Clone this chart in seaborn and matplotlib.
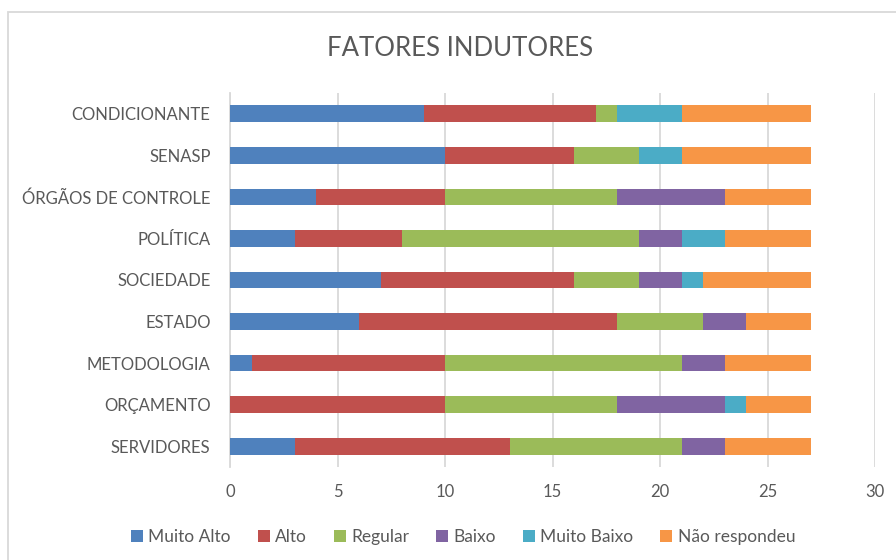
import matplotlib
matplotlib.use("Agg")
import matplotlib.pyplot as plt
import seaborn as sns
import pandas as pd
import numpy as np
from matplotlib.patches import Rectangle, Patch

categories = ["CONDICIONANTE", "SENASP", "ÓRGÃOS DE CONTROLE", "POLÍTICA", "SOCIEDADE",
              "ESTADO", "METODOLOGIA", "ORÇAMENTO", "SERVIDORES"]
muito_alto = [9, 10, 4, 3, 7, 6, 1, 0, 3]
alto = [8, 6, 6, 5, 9, 12, 9, 10, 10]
regular = [1, 3, 8, 11, 3, 4, 11, 8, 8]
baixo = [0, 0, 5, 2, 2, 2, 2, 5, 2]
muito_baixo = [3, 2, 0, 2, 1, 0, 0, 1, 0]
nao_respondeu = [6, 6, 4, 4, 5, 3, 4, 3, 4]

series_names = ["Muito Alto", "Alto", "Regular", "Baixo", "Muito Baixo", "Não respondeu"]
series_vals = [muito_alto, alto, regular, baixo, muito_baixo, nao_respondeu]
colors = ["#4F81BD", "#C0504D", "#9BBB59", "#8064A2", "#4BACC6", "#F79646"]
xticks = [0, 5, 10, 15, 20, 25, 30]

sns.set_theme(style="white")
plt.rcParams["font.family"] = ["Lato", "DejaVu Sans"]

fig = plt.figure(figsize=(8.96, 5.6), dpi=100)
ax = fig.add_axes([230/896, 1 - 467/560, (875-230)/896, (467-93)/560])

cum = np.cumsum(np.array(series_vals), axis=0)
for i in range(len(series_names) - 1, -1, -1):
    df = pd.DataFrame({"cat": categories, "val": cum[i]})
    sns.barplot(data=df, x="val", y="cat", order=categories, color=colors[i],
                width=0.4, ax=ax, saturation=1, linewidth=0, zorder=3)

ax.set_xlim(0, 30)
ax.set_xticks(xticks)
ax.set_xlabel("")
ax.set_ylabel("")
ax.grid(axis="x", color="#D9D9D9", linewidth=1.3, zorder=0)
ax.grid(axis="y", visible=False)
for s in ["top", "right", "bottom"]:
    ax.spines[s].set_visible(False)
ax.spines["left"].set_color("#D9D9D9")
ax.spines["left"].set_linewidth(1.3)
ax.tick_params(axis="both", length=0, labelsize=12, labelcolor="#595959")
ax.tick_params(axis="x", pad=12)
ax.tick_params(axis="y", pad=14)
ax.set_axisbelow(True)

fig.text(460/896, 1 - 48/560, "FATORES INDUTORES", ha="center", va="center",
         fontsize=18.5, color="#595959")

handles = [Patch(facecolor=c, edgecolor="none") for c in colors]
fig.legend(handles, series_names, loc="center", bbox_to_anchor=(463/896, 1 - 537/560),
           ncol=6, frameon=False, fontsize=12.5, labelcolor="#595959",
           handlelength=0.7, handleheight=0.7, handletextpad=0.3, columnspacing=1.55)

fig.patches.append(Rectangle((8/896, -0.1), 1.2, 1 - 12/560 + 0.1, transform=fig.transFigure,
                             fill=False, edgecolor="#D9D9D9", linewidth=1.3))

fig.savefig("out.png", dpi=100)
